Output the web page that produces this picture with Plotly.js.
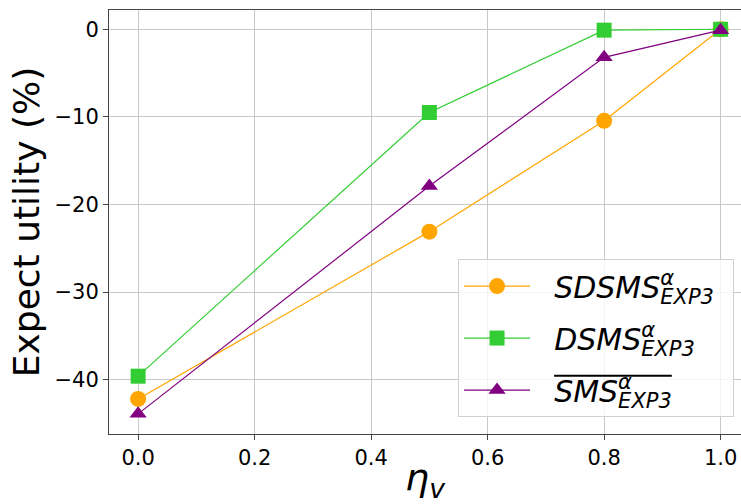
<!DOCTYPE html>
<html>
<head>
<meta charset="utf-8">
<script src="https://cdn.plot.ly/plotly-3.0.1.min.js"></script>
<style>html,body{margin:0;padding:0;background:#fff;}#chart{width:741px;height:504px;}</style>
</head>
<body>
<div id="chart"></div>
<script>
var etaV = [0.0, 0.5, 0.8, 1.0];
var sdsms = [-42.2, -23.1, -10.45, 0.0];
var dsms = [-39.6, -9.5, -0.1, 0.0];
var smsBar = [-43.9, -17.9, -3.2, -0.1];
var seriesNames = [
  '\u00A0\u00A0<i>SDSMS</i><sup><i>α</i></sup><sub><i>EXP3</i></sub>',
  '\u00A0\u00A0<i>DSMS</i><sup><i>α</i></sup><sub><i>EXP3</i></sub>',
  '\u00A0\u00A0<i>SMS</i><sup><i>α</i></sup><sub><i>EXP3</i></sub>'
];
var overlined = [false, false, true];
var xTicks = [0.0, 0.2, 0.4, 0.6, 0.8, 1.0];
var xTickText = ['0.0', '0.2', '0.4', '0.6', '0.8', '1.0'];
var yTicks = [0, -10, -20, -30, -40];

var font = 'DejaVu Sans, sans-serif';
var traces = [
  {x: etaV, y: sdsms, name: seriesNames[0], legendgroup: 'g1', mode: 'lines+markers',
   line: {color: '#FFA500', width: 1.2}, marker: {symbol: 'circle', size: 16, color: '#FFA500'}},
  {x: etaV, y: dsms, name: seriesNames[1], legendgroup: 'g2', mode: 'lines+markers',
   line: {color: '#32CD32', width: 1.2}, marker: {symbol: 'square', size: 15, color: '#32CD32'}},
  {x: etaV, y: smsBar, name: seriesNames[2], legendgroup: 'g3', mode: 'lines+markers',
   line: {color: '#800080', width: 1.2}, marker: {symbol: 'triangle-up', size: 15, color: '#800080'}}
];
var layout = {
  width: 741, height: 504,
  margin: {l: 109, r: 0, t: 10, b: 70, pad: 0},
  paper_bgcolor: '#fff', plot_bgcolor: '#fff',
  font: {family: font, color: '#000'},
  showlegend: true,
  legend: {x: 0.989, xanchor: 'right', y: 0.04, yanchor: 'bottom',
    bgcolor: 'rgba(255,255,255,0.8)', bordercolor: '#d0d0d0', borderwidth: 1,
    font: {family: font, size: 30, color: '#000'}, itemwidth: 66, tracegroupgap: 10},
  xaxis: {range: [-0.05, 1.035], tickvals: xTicks, ticktext: xTickText,
    showgrid: true, gridcolor: '#c8c8c8', gridwidth: 1, zeroline: false,
    showline: true, linecolor: '#444', linewidth: 1, mirror: true,
    ticks: 'outside', ticklen: 5, tickcolor: '#444',
    tickfont: {family: font, size: 21, color: '#000'},
    title: {text: '<i>η<sub>v</sub></i>', font: {family: font, size: 38, color: '#000'}, standoff: 2}},
  yaxis: {range: [-46.2, 2.2], tickvals: yTicks,
    showgrid: true, gridcolor: '#c8c8c8', gridwidth: 1, zeroline: false,
    showline: true, linecolor: '#444', linewidth: 1, mirror: false,
    ticks: 'outside', ticklen: 5, tickcolor: '#444',
    tickfont: {family: font, size: 21, color: '#000'},
    title: {text: 'Expect utility (%)', font: {family: font, size: 36, color: '#000'}, standoff: 3}}
};

var gd = document.getElementById('chart');
function findSpan(t, txt) {
  var found = null;
  t.querySelectorAll('tspan').forEach(function(s) {
    if (s.textContent === txt) found = s;
  });
  return found;
}
function fixLegend() {
  var texts = gd.querySelectorAll('.legend .legendtext');
  texts.forEach(function(t, i) {
    var spans = t.querySelectorAll('tspan');
    var supNode = null, subNode = null;
    spans.forEach(function(s) {
      var dy = s.getAttribute('dy');
      if (dy === '-0.6em' && !supNode) supNode = s;
      if (dy === '0.3em' && !subNode) subNode = s;
    });
    if (supNode && subNode) {
      var w = supNode.getComputedTextLength();
      subNode.setAttribute('dx', (-w).toFixed(2));
    }
    if (overlined[i]) {
      var parent = t.parentNode;
      var old = parent.querySelector('line.overbar');
      if (old) old.remove();
      var first = findSpan(t, 'SMS');
      var last = findSpan(t, 'EXP3');
      if (!first || !last) return;
      var r1 = first.getBoundingClientRect();
      var r2 = last.getBoundingClientRect();
      var m = parent.getScreenCTM().inverse();
      var svg = gd.querySelector('svg.main-svg');
      var p1 = svg.createSVGPoint(); p1.x = r1.left; p1.y = r1.top + 2;
      var p2 = svg.createSVGPoint(); p2.x = r2.right; p2.y = r1.top + 2;
      p1 = p1.matrixTransform(m); p2 = p2.matrixTransform(m);
      var ln = document.createElementNS('http://www.w3.org/2000/svg', 'line');
      ln.setAttribute('class', 'overbar');
      ln.setAttribute('x1', p1.x); ln.setAttribute('y1', p1.y);
      ln.setAttribute('x2', p2.x); ln.setAttribute('y2', p2.y);
      ln.setAttribute('stroke', '#000'); ln.setAttribute('stroke-width', '2');
      parent.appendChild(ln);
    }
  });
}
Plotly.newPlot(gd, traces, layout, {displayModeBar: false, staticPlot: true}).then(fixLegend);
</script>
</body>
</html>
